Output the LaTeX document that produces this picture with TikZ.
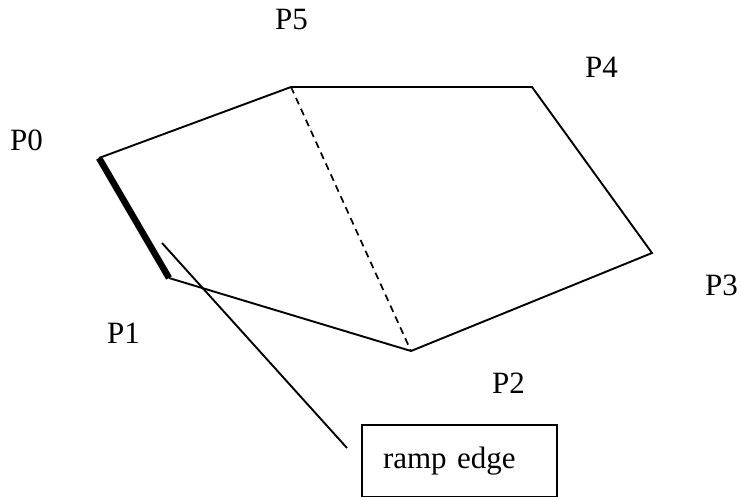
\documentclass[tikz,border=0pt]{standalone}
\usepackage{fontspec}
\setmainfont{Liberation Serif}
\usepackage{tikz}
\usetikzlibrary{positioning, calc}

\begin{document}
\begin{tikzpicture}[
    x=1pt, y=-1pt,
    edge/.style={line width=1.9pt, color=black},
    rampline/.style={line width=6.5pt, color=black},
    split/.style={line width=1.7pt, dash pattern=on 7pt off 5pt},
    plabel/.style={anchor=base west, inner sep=0pt, font=\fontsize{31}{36}\selectfont},
    callout/.style={draw, line width=2pt, anchor=north west, minimum width=195pt, minimum height=72pt, inner xsep=21pt, text width=153pt, align=left, font=\fontsize{31}{36}\selectfont},
]
\useasboundingbox (0,0) rectangle (741,497);

% polygon corners
\coordinate (p0) at (99,158);
\coordinate (p1) at (169,278);
\coordinate (p2) at (411,351);
\coordinate (p3) at (652,253);
\coordinate (p4) at (532,87);
\coordinate (p5) at (291,87);

\node[plabel] (l0) at (10,151) {P0};
\node[plabel] (l1) at (107,343) {P1};
\node[plabel] (l2) at (492,393) {P2};
\node[plabel] (l3) at (705,295) {P3};
\node[plabel] (l4) at (585,78) {P4};
\node[plabel] (l5) at (275,30) {P5};

\draw[edge, line join=miter] (p1) -- (p2) -- (p3) -- (p4) -- (p5) -- (p0);
\draw[split] (p5) -- (p2);
\draw[rampline] (p0) -- (p1);

% callout
\node[callout] (ramp) at (361,424) {ramp edge};
\coordinate (tip) at (162,243);
\coordinate (foot) at (347,448);
\draw[edge] (tip) -- (foot);

\end{tikzpicture}
\end{document}
